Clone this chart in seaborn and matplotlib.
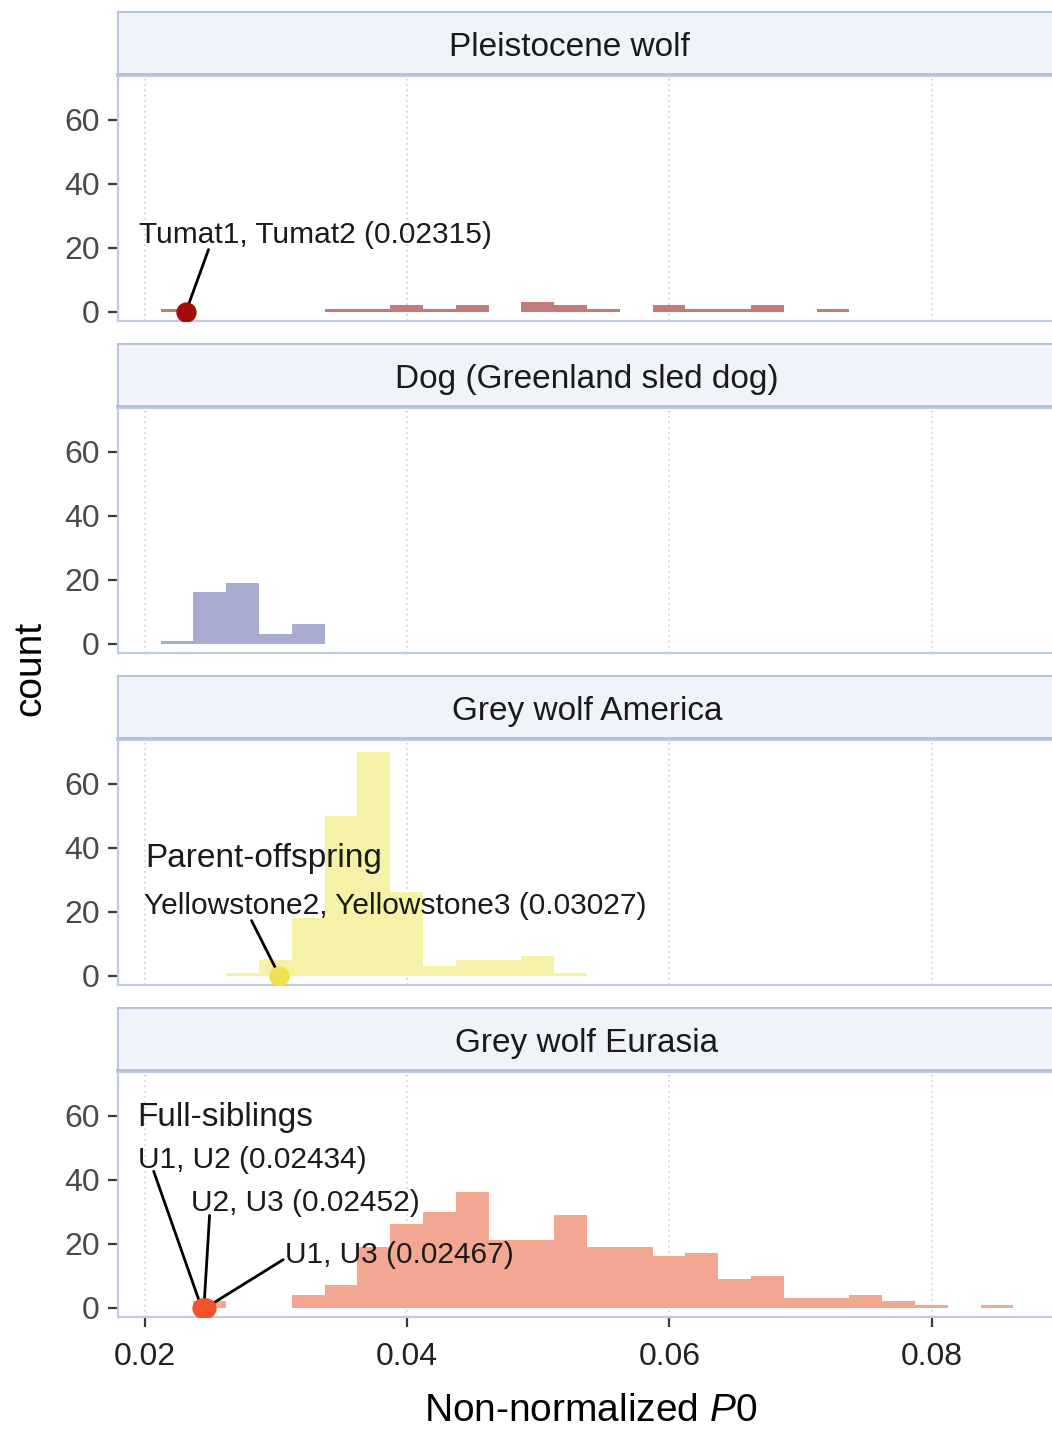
import numpy as np
import pandas as pd
import matplotlib
matplotlib.use("Agg")
import matplotlib.pyplot as plt
import seaborn as sns

# ---- data -------------------------------------------------------------
groups = ["Pleistocene wolf", "Dog (Greenland sled dog)",
          "Grey wolf America", "Grey wolf Eurasia"]

bin_start = 0.02122
bin_width = 0.0025

pleistocene_counts = [1, 0, 0, 0, 0, 1, 1, 2, 1, 2, 0, 3, 2, 1, 0, 2, 1, 1, 2, 0, 1, 0, 0, 0, 0, 0]
dog_counts = [1, 16, 19, 3, 6, 0, 0, 0, 0, 0, 0, 0, 0, 0, 0, 0, 0, 0, 0, 0, 0, 0, 0, 0, 0, 0]
america_counts = [0, 0, 1, 5, 18, 50, 70, 26, 3, 5, 5, 6, 1, 0, 0, 0, 0, 0, 0, 0, 0, 0, 0, 0, 0, 0]
eurasia_counts = [0, 2, 0, 0, 4, 7, 19, 26, 30, 36, 21, 21, 29, 19, 19, 16, 17, 9, 10, 3, 3, 4, 2, 1, 0, 1]

bar_colors = ["#c47a78", "#a9abd0", "#f5f1a6", "#f2a792"]
point_colors = ["#a30b0b", "#a9abd0", "#f0df4e", "#f2522c"]

x_ticks = [0.02, 0.04, 0.06, 0.08]
x_tick_labels = ["0.02", "0.04", "0.06", "0.08"]
y_ticks = [0, 20, 40, 60]

# related pairs highlighted as points
pair_groups = ["Pleistocene wolf", "Grey wolf America",
               "Grey wolf Eurasia", "Grey wolf Eurasia", "Grey wolf Eurasia"]
pair_values = [0.02315, 0.03027, 0.02434, 0.02452, 0.02467]
pair_labels = ["Tumat1, Tumat2 (0.02315)",
               "Yellowstone2, Yellowstone3 (0.03027)",
               "U1, U2 (0.02434)", "U2, U3 (0.02452)", "U1, U3 (0.02467)"]
relation_headings = {"Grey wolf America": "Parent-offspring",
                     "Grey wolf Eurasia": "Full-siblings"}

counts_by_group = dict(zip(groups, [pleistocene_counts, dog_counts,
                                    america_counts, eurasia_counts]))

n_bins = len(pleistocene_counts)
edges = bin_start + bin_width * np.arange(n_bins + 1)
centers = (edges[:-1] + edges[1:]) / 2

hist_df = pd.concat([
    pd.DataFrame({"group": g, "p0": centers, "count": counts_by_group[g]})
    for g in groups
], ignore_index=True)
pairs_df = pd.DataFrame({"group": pair_groups, "p0": pair_values,
                         "label": pair_labels, "count": 0})

# ---- style ------------------------------------------------------------
sns.set_theme(style="white")
plt.rcParams["font.family"] = ["Liberation Sans", "DejaVu Sans"]
plt.rcParams["mathtext.fontset"] = "custom"
plt.rcParams["mathtext.rm"] = "Liberation Sans"
plt.rcParams["mathtext.it"] = "Liberation Sans:italic"

W, H = 1052, 1429
fig = plt.figure(figsize=(W / 100, H / 100), dpi=100)
fig.patch.set_facecolor("white")

panel_left, panel_right = 118, 1056
strip_h, panel_h, step, top0 = 63, 245, 332, 12

border_col = "#bfcbe0"
strip_edge = "#aebad2"
strip_face = "#f1f3fb"
grid_col = "#c9c9c9"
text_col = "#1a1a1a"
tick_col = "#3a3a3a"

xlim = (0.01797, 0.08947)
ylim = (-2.9, 73.6)

# label placement (data coordinates) and leader segments
label_pos = {
    "Tumat1, Tumat2 (0.02315)": (0.01954, 23.9),
    "Yellowstone2, Yellowstone3 (0.03027)": (0.01992, 21.7),
    "U1, U2 (0.02434)": (0.01947, 46.1),
    "U2, U3 (0.02452)": (0.02350, 32.7),
    "U1, U3 (0.02467)": (0.03073, 16.4),
}
segment_start = {
    "Tumat1, Tumat2 (0.02315)": (0.02487, 19.4),
    "Yellowstone2, Yellowstone3 (0.03027)": (0.02815, 17.2),
    "U1, U2 (0.02434)": (0.02069, 42.6),
    "U2, U3 (0.02452)": (0.02495, 28.8),
    "U1, U3 (0.02467)": (0.03056, 15.0),
}
heading_pos = {"Grey wolf America": (0.02008, 36.7),
               "Grey wolf Eurasia": (0.01947, 59.5)}
strip_text_x = {"Pleistocene wolf": 569}


def frac_box(left, top, right, bottom):
    return [left / W, 1 - bottom / H, (right - left) / W, (bottom - top) / H]


for i, g in enumerate(groups):
    s_top = top0 + step * i
    s_bot = s_top + strip_h
    p_top = s_bot + 1
    p_bot = p_top + panel_h

    # facet strip
    sax = fig.add_axes(frac_box(panel_left, s_top, panel_right, s_bot))
    sax.set_facecolor(strip_face)
    sax.set_xticks([]); sax.set_yticks([])
    for side, sp in sax.spines.items():
        sp.set_color(strip_edge)
        sp.set_linewidth(2.6 if side == "bottom" else 1.2)
    cx = strip_text_x.get(g, (panel_left + panel_right) / 2)
    sax.text((cx - panel_left) / (panel_right - panel_left), 0.43, g,
             transform=sax.transAxes, ha="center", va="center",
             fontsize=24, color=text_col)

    # panel
    ax = fig.add_axes(frac_box(panel_left, p_top, panel_right, p_bot))
    ax.set_facecolor("white")
    ax.set_axisbelow(True)
    sub = hist_df[hist_df["group"] == g]
    sns.histplot(data=sub, x="p0", weights="count",
                 binwidth=bin_width, binrange=(edges[0], edges[-1]),
                 color=bar_colors[i], alpha=1.0, linewidth=0, ax=ax)

    pts = pairs_df[pairs_df["group"] == g]
    for _, r in pts.iterrows():
        sx, sy = segment_start[r["label"]]
        ax.plot([sx, r["p0"]], [sy, r["count"]], color="black", lw=2.0,
                zorder=4, solid_capstyle="round")
        tx, ty = label_pos[r["label"]]
        ax.text(tx, ty, r["label"], ha="left", va="center",
                fontsize=21.5, color=text_col, zorder=6)
    if len(pts):
        sns.scatterplot(data=pts, x="p0", y="count", ax=ax, s=190,
                        color=point_colors[i], edgecolor=point_colors[i],
                        linewidth=0.8, zorder=5, legend=False)
    if g in relation_headings:
        hx, hy = heading_pos[g]
        ax.text(hx, hy, relation_headings[g], ha="left", va="center",
                fontsize=24, color=text_col, zorder=6)

    ax.set_xlim(*xlim)
    ax.set_ylim(*ylim)
    ax.set_xticks(x_ticks)
    ax.set_yticks(y_ticks)
    ax.set_xlabel("")
    ax.set_ylabel("")
    ax.grid(False)
    for xv in x_ticks:
        ax.axvline(xv, color=grid_col, lw=1.1, ls=(0, (1, 2.5)), zorder=0)
    for sp in ax.spines.values():
        sp.set_color(border_col)
        sp.set_linewidth(1.6)

    ax.tick_params(axis="y", which="major", length=7, width=1.6,
                   color=tick_col, labelsize=23, labelcolor="#4a4a4a",
                   pad=6, left=True)
    if i == len(groups) - 1:
        ax.set_xticklabels(x_tick_labels)
        ax.tick_params(axis="x", which="major", length=7, width=1.6,
                       color=tick_col, labelsize=23, labelcolor="#222222",
                       pad=11, bottom=True)
    else:
        ax.tick_params(axis="x", bottom=False, labelbottom=False)

fig.text(30 / W, 1 - 668 / H, "count", rotation=90, ha="center",
         va="center", fontsize=28, color="black")
fig.text(591 / W, 1 - 1411 / H, r"Non-normalized $\mathit{P0}$",
         ha="center", va="center", fontsize=28, color="black")

fig.savefig("out.png", dpi=100, facecolor="white")
